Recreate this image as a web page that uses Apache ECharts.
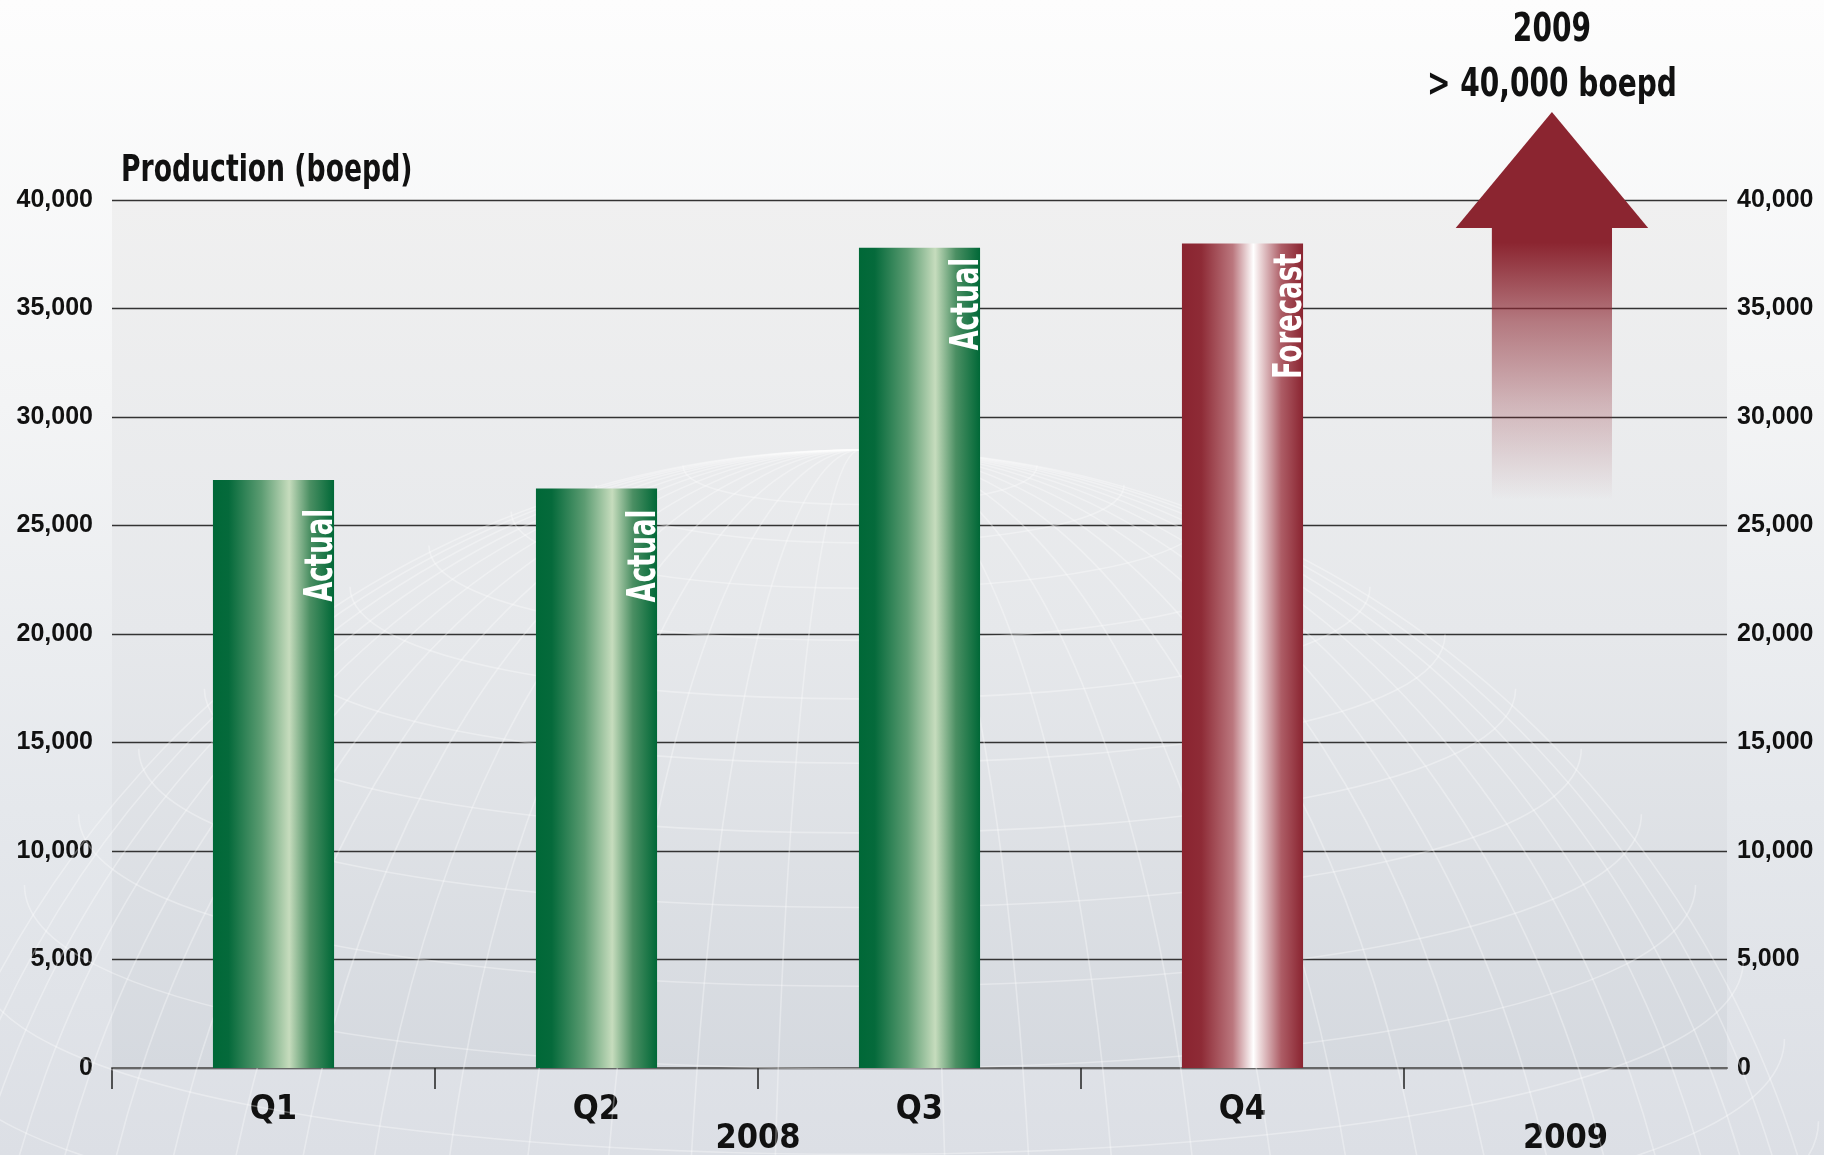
<!DOCTYPE html>
<html>
<head>
<meta charset="utf-8">
<script src="https://cdn.jsdelivr.net/npm/echarts@6/dist/echarts.min.js"></script>
<style>
  html, body { margin: 0; padding: 0; }
  #chart {
    width: 1824px; height: 1155px;
    background: linear-gradient(to bottom, #fdfdfd 0%, #f3f4f5 35%, #e5e8ec 70%, #dcdfe5 100%);
  }
</style>
</head>
<body>
<div id="chart"></div>
<script>
// Quarterly production, 2008 (boe per day)
const quarters = ['Q1', 'Q2', 'Q3', 'Q4', ''];
const production = [27100, 26700, 37800, 38000];
const status = ['Actual', 'Actual', 'Actual', 'Forecast'];

// Year bands along the category axis: [first quarter index, end index]
const years = ['2008', '2009'];
const yearSpans = [[0, 4], [4, 5]];

// Value axis ticks
const yMin = 0, yMax = 40000, yStep = 5000;

// 2009 outlook annotation
const outlookCategory = 4;
const outlookValue = 40000;
const outlookLines = ['2009', '> 40,000 boepd'];

const chartTitle = 'Production (boepd)';

const narrow = '"DejaVu Sans Condensed", "DejaVu Sans", sans-serif';
const sans = '"Liberation Sans", Arial, Helvetica, sans-serif';
const squeeze = 0.78;   // horizontal squeeze for the condensed headings
const BAR_SHARE = 0.375;

const greenFill = new echarts.graphic.LinearGradient(0, 0, 1, 0, [
  { offset: 0, color: '#006837' },
  { offset: 0.13, color: '#056a3b' },
  { offset: 0.4, color: '#5c9c72' },
  { offset: 0.63, color: '#c6dcbd' },
  { offset: 0.8, color: '#4b8f63' },
  { offset: 1, color: '#006837' }
]);
const redFill = new echarts.graphic.LinearGradient(0, 0, 1, 0, [
  { offset: 0, color: '#8a2430' },
  { offset: 0.16, color: '#8e2b36' },
  { offset: 0.42, color: '#bb777e' },
  { offset: 0.59, color: '#ffffff' },
  { offset: 0.63, color: '#f1e2e3' },
  { offset: 0.82, color: '#ad5d66' },
  { offset: 1, color: '#8a2430' }
]);

// Gap between each bar top and its status tag
const tagGap = [29, 21, 10, 10];

const barData = production.map((v, i) => ({
  value: v,
  itemStyle: { color: status[i] === 'Forecast' ? redFill : greenFill }
}));

// Faint globe wireframe in the backdrop
const mesh = [];
(function () {
  const cx = 860, cy = 1470, R = 1020;
  const line = { stroke: 'rgba(255,255,255,0.33)', lineWidth: 1.6, fill: null };
  const step = Math.PI / 36;
  for (let lam = step; lam < Math.PI * 0.42; lam += step) {
    mesh.push({ type: 'ellipse', z: 1, silent: true,
      shape: { cx: cx, cy: cy, rx: R * Math.sin(lam), ry: R }, style: line });
  }
  for (let lat = step; lat < Math.PI * 0.47; lat += step) {
    const rx = R * Math.cos(lat), ry = rx * 0.22;
    const y = cy - R * Math.sin(lat);
    const k = ry * 4 / 3;
    mesh.push({ type: 'bezierCurve', z: 1, silent: true,
      shape: { x1: cx - rx, y1: y, cpx1: cx - rx, cpy1: y + k, cpx2: cx + rx, cpy2: y + k, x2: cx + rx, y2: y },
      style: line });
  }
})();

const headingFont = { fontFamily: narrow, fontWeight: 'bold', fill: '#111' };

const chart = echarts.init(document.getElementById('chart'), null, { renderer: 'canvas' });

chart.setOption({
  animation: false,
  graphic: mesh.concat([
    {
      type: 'text', x: 121, y: 171, scaleX: squeeze, z: 5,
      style: Object.assign({ text: chartTitle, fontSize: 38, verticalAlign: 'middle' }, headingFont)
    }
  ]),
  grid: {
    left: 112, right: 97, top: 200, bottom: 87,
    show: true, borderWidth: 0,
    backgroundColor: new echarts.graphic.LinearGradient(0, 0, 0, 1, [
      { offset: 0, color: '#f0f0f0' },
      { offset: 0.5, color: '#e6e8eb' },
      { offset: 1, color: '#d5d9df' }
    ]),
    outerBoundsMode: 'none'
  },
  xAxis: [
    {
      type: 'category', data: quarters, position: 'bottom',
      axisLine: { lineStyle: { color: '#666', width: 2 } },
      axisTick: { show: false },
      axisLabel: { margin: 25, fontFamily: narrow, fontWeight: 'bold', fontSize: 34, color: '#111' }
    },
    {
      type: 'value', min: 0, max: quarters.length, position: 'bottom',
      splitLine: { show: false },
      axisLine: { show: false },
      axisTick: {
        show: true, length: 21,
        customValues: [0, 1, 2, 3, 4],
        lineStyle: { color: '#222', width: 1.5 }
      },
      axisLabel: {
        customValues: yearSpans.map(s => (s[0] + s[1]) / 2),
        formatter: function (v) {
          const i = yearSpans.findIndex(s => (s[0] + s[1]) / 2 === v);
          return i >= 0 ? years[i] : '';
        },
        margin: 54, fontFamily: narrow, fontWeight: 'bold', fontSize: 34, color: '#111'
      }
    }
  ],
  yAxis: [
    {
      type: 'value', min: yMin, max: yMax, interval: yStep, position: 'left',
      axisLine: { show: false }, axisTick: { show: false },
      splitLine: { lineStyle: { color: '#333', width: 1.3 } },
      axisLabel: { margin: 19, fontFamily: sans, fontWeight: 'bold', fontSize: 25, color: '#111' }
    },
    {
      type: 'value', min: yMin, max: yMax, interval: yStep, position: 'right',
      axisLine: { show: false }, axisTick: { show: false },
      splitLine: { show: false },
      axisLabel: { margin: 10, fontFamily: sans, fontWeight: 'bold', fontSize: 25, color: '#111' }
    }
  ],
  series: [
    {
      type: 'bar', xAxisIndex: 0, yAxisIndex: 0,
      barWidth: (BAR_SHARE * 100) + '%', z: 3,
      data: barData
    },
    {
      // Status tags set vertically along each bar's right edge
      type: 'custom', xAxisIndex: 0, yAxisIndex: 0, z: 4,
      data: production.map((v, i) => [i, v]),
      renderItem: function (params, api) {
        const i = params.dataIndex;
        const p = api.coord([api.value(0), api.value(1)]);
        const half = api.size([1, 0])[0] * BAR_SHARE / 2;
        return {
          type: 'text',
          x: p[0] + half + 7, y: p[1] + tagGap[i],
          rotation: Math.PI / 2, scaleX: 0.74,
          style: {
            text: status[i], align: 'right', verticalAlign: 'bottom',
            fontFamily: narrow, fontWeight: 'bold', fontSize: 39, fill: '#ffffff'
          }
        };
      }
    },
    {
      type: 'custom', xAxisIndex: 0, yAxisIndex: 0, z: 3, clip: false,
      data: [[outlookCategory, outlookValue]],
      renderItem: function (params, api) {
        const p = api.coord([api.value(0), api.value(1)]);
        const w = api.size([1, 0])[0];
        const cx = p[0] - w * 0.042;
        const top = p[1];
        const headHalf = w * 0.298, shaftHalf = w * 0.186;
        const shaftTop = top + 26, shaftBottom = top + 300;
        const txt = (s, y) => ({
          type: 'text', x: cx, y: y, scaleX: 0.8,
          style: Object.assign({ text: s, align: 'center', verticalAlign: 'middle', fontSize: 39 }, headingFont)
        });
        return {
          type: 'group',
          children: [
            {
              type: 'rect',
              shape: { x: cx - shaftHalf, y: shaftTop, width: shaftHalf * 2, height: shaftBottom - shaftTop },
              style: {
                fill: new echarts.graphic.LinearGradient(0, 0, 0, 1, [
                  { offset: 0, color: 'rgba(139,37,48,1)' },
                  { offset: 0.06, color: 'rgba(139,37,48,1)' },
                  { offset: 0.35, color: 'rgba(139,37,48,0.58)' },
                  { offset: 0.65, color: 'rgba(139,37,48,0.28)' },
                  { offset: 0.9, color: 'rgba(139,37,48,0.08)' },
                  { offset: 1, color: 'rgba(139,37,48,0)' }
                ])
              }
            },
            {
              type: 'polygon',
              shape: { points: [[cx, top - 88], [cx + headHalf, top + 28], [cx - headHalf, top + 28]] },
              style: { fill: '#8b2530' }
            },
            txt(outlookLines[0], top - 169),
            txt(outlookLines[1], top - 114)
          ]
        };
      }
    }
  ]
});
</script>
</body>
</html>
